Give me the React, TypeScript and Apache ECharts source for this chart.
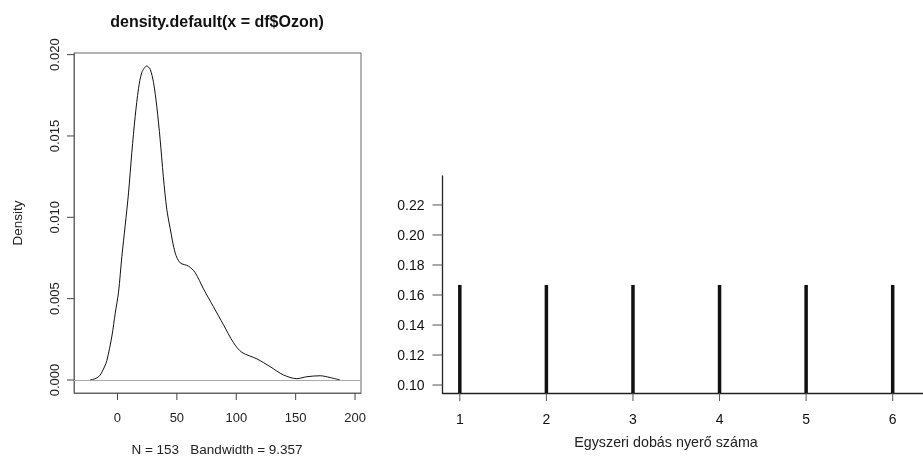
import React, { useEffect, useRef } from "react";
import * as echarts from "echarts";

// Left panel: kernel density of Ozon
const densityX = [-23, -18, -14.6, -11, -8.9, -4.7, -1.9, 0.9, 3.7, 6.5, 9.3, 12.1, 14.9, 17.7, 20.5, 24.7, 27.5, 30.3, 33.1, 35.9, 38.6, 41.5, 44.4, 48.6, 52.8, 59.8, 65.4, 72.4, 80.8, 89.2, 97.6, 104.7, 117.3, 128.5, 139.7, 151, 159.4, 170.6, 179, 187.4];
const densityY = [0, 0.0001, 0.0003, 0.0008, 0.0012, 0.0027, 0.0041, 0.0054, 0.0076, 0.0095, 0.0115, 0.014, 0.0162, 0.0179, 0.0189, 0.0193, 0.0191, 0.0183, 0.0168, 0.0148, 0.0125, 0.0105, 0.0093, 0.0078, 0.0072, 0.007, 0.0066, 0.0056, 0.0045, 0.0034, 0.0023, 0.0017, 0.0013, 0.00082, 0.00031, 0.00008, 0.0002, 0.00026, 0.00015, 0];
const densityXTicks = [0, 50, 100, 150, 200];
const densityYTicks = [0, 0.005, 0.01, 0.015, 0.02];

// Right panel: single die throw probabilities
const dieFaces = [1, 2, 3, 4, 5, 6];
const dieProb = [0.1667, 0.1667, 0.1667, 0.1667, 0.1667, 0.1667];
const dieYTicks = [0.1, 0.12, 0.14, 0.16, 0.18, 0.2, 0.22];

const FONT = "Liberation Sans, Arial, Helvetica, sans-serif";

const L_XMIN = -36.6, L_XMAX = 205, L_YMIN = -0.0008, L_YMAX = 0.0201;
const R_XMIN = 0.8, R_XMAX = 6.35, R_YMIN = 0.0947, R_YMAX = 0.2393;

function tickSeries(xi: number, values: number[][], dx: number, dy: number, color: string) {
  return {
    type: "custom", xAxisIndex: xi, yAxisIndex: xi, data: values, clip: false, silent: true, z: 10,
    renderItem: (_p: any, api: any) => {
      const pt = api.coord([api.value(0), api.value(1)]);
      return {
        type: "line",
        shape: { x1: pt[0], y1: pt[1], x2: pt[0] + dx, y2: pt[1] + dy },
        style: { stroke: color, lineWidth: 1 },
      };
    },
  };
}

export default function App() {
  const ref = useRef<HTMLDivElement>(null);
  useEffect(() => {
    if (!ref.current) return;
    const chart = echarts.init(ref.current, null, { renderer: "svg" });
    const densityData = densityX.map((x, i) => [x, densityY[i]]);
    const dieData = dieFaces.map((x, i) => [x, dieProb[i]]);
    chart.setOption({
      animation: false,
      grid: [
        { left: 74, top: 53, width: 287, height: 340, show: true, borderColor: "#666" },
        { left: 442.5, top: 176, right: 0, height: 217 },
      ],
      xAxis: [
        {
          type: "value", gridIndex: 0, min: L_XMIN, max: L_XMAX,
          splitLine: { show: false },
          axisLine: { show: true, onZero: false, lineStyle: { color: "#666", width: 1 } },
          axisTick: { show: false },
          axisLabel: { fontSize: 13, color: "#222", margin: 18, fontFamily: FONT, customValues: densityXTicks },
        },
        {
          type: "value", gridIndex: 1, min: R_XMIN, max: R_XMAX,
          splitLine: { show: false },
          axisLine: { show: true, onZero: false, lineStyle: { color: "#222", width: 1.3 } },
          axisTick: { show: false },
          axisLabel: { fontSize: 14, color: "#111", margin: 19, fontFamily: FONT, customValues: dieFaces },
        },
      ],
      yAxis: [
        {
          type: "value", gridIndex: 0, min: L_YMIN, max: L_YMAX,
          splitLine: { show: false },
          axisLine: { show: true, onZero: false, lineStyle: { color: "#666", width: 1 } },
          axisTick: { show: false },
          axisLabel: {
            fontSize: 13, color: "#222", rotate: 90, margin: 13, fontFamily: FONT,
            customValues: densityYTicks,
            formatter: (v: number) => v.toFixed(3),
          },
        },
        {
          type: "value", gridIndex: 1, min: R_YMIN, max: R_YMAX,
          splitLine: { show: false },
          axisLine: { show: true, onZero: false, lineStyle: { color: "#222", width: 1.3 } },
          axisTick: { show: false },
          axisLabel: {
            fontSize: 14, color: "#111", margin: 18, fontFamily: FONT,
            customValues: dieYTicks,
            formatter: (v: number) => v.toFixed(2),
          },
        },
      ],
      series: [
        {
          type: "line", xAxisIndex: 0, yAxisIndex: 0, data: densityData,
          smooth: 0.3, showSymbol: false, symbol: "none",
          lineStyle: { color: "#111", width: 1 },
          markLine: {
            silent: true, symbol: "none", label: { show: false },
            lineStyle: { color: "#aaa", type: "solid", width: 1 },
            data: [{ yAxis: 0 }],
          },
        },
        {
          type: "bar", xAxisIndex: 1, yAxisIndex: 1, data: dieData,
          barWidth: 3.5, itemStyle: { color: "#111" },
        },
        tickSeries(0, densityXTicks.map((v) => [v, L_YMIN]), 0, 7, "#444"),
        tickSeries(0, densityYTicks.map((v) => [L_XMIN, v]), -7, 0, "#444"),
        tickSeries(1, dieFaces.map((v) => [v, R_YMIN]), 0, 8, "#555"),
        tickSeries(1, dieYTicks.map((v) => [R_XMIN, v]), -10, 0, "#555"),
      ],
      graphic: [
        {
          type: "text", x: 217, y: 21, style: {
            text: "density.default(x = df$Ozon)", font: `bold 16px ${FONT}`,
            fill: "#111", align: "center", verticalAlign: "middle",
          },
        },
        {
          type: "text", x: 217, y: 449, style: {
            text: "N = 153   Bandwidth = 9.357", font: `13.5px ${FONT}`,
            fill: "#222", align: "center", verticalAlign: "middle",
          },
        },
        {
          type: "text", x: 17.5, y: 223, rotation: Math.PI / 2, style: {
            text: "Density", font: `13.5px ${FONT}`,
            fill: "#222", align: "center", verticalAlign: "middle",
          },
        },
        {
          type: "text", x: 666, y: 442, style: {
            text: "Egyszeri dobás nyerő száma", font: `14.3px ${FONT}`,
            fill: "#222", align: "center", verticalAlign: "middle",
          },
        },
      ],
    });
    return () => chart.dispose();
  }, []);
  return (
    <div
      ref={ref}
      style={{ position: "fixed", left: 0, top: 0, width: 923, height: 459 }}
    />
  );
}
